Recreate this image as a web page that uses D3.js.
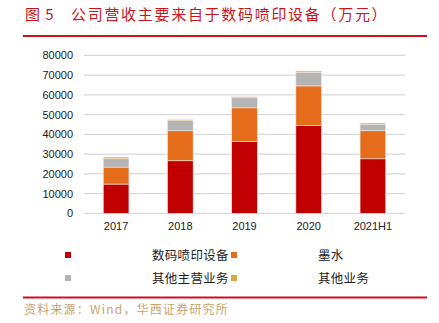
<!DOCTYPE html>
<html><head><meta charset="utf-8">
<script src="https://cdn.jsdelivr.net/npm/d3@7"></script>
<style>body{margin:0;background:#fff}svg{display:block}</style>
</head><body><svg id="c" width="439" height="323"></svg>
<script>
const categories = ["2017","2018","2019","2020","2021H1"];
const seriesNames = ["数码喷印设备","墨水","其他主营业务","其他业务"];
const printEquip = [14800, 26600, 36400, 44400, 27600];
const ink = [8600, 15200, 17000, 20100, 14200];
const otherMain = [4200, 5100, 5100, 6900, 3250];
const otherBiz = [850, 500, 500, 650, 650];
const yTicks = [0,10000,20000,30000,40000,50000,60000,70000,80000];
const colors = ["#C00000","#E46C1A","#B4B4B4","#D4AA44"];

const svg = d3.select("#c");
const cjk = "'Noto Sans CJK SC', sans-serif";

// title
svg.append("text").attr("x",25).attr("y",20).attr("fill","#C8161D")
  .style("font-family",cjk).style("font-size","15px").style("letter-spacing","1px")
  .text("图 5");
svg.append("text").attr("x",71).attr("y",20).attr("fill","#C8161D")
  .style("font-family",cjk).style("font-size","15px").style("letter-spacing","1.7px")
  .text("公司营收主要来自于数码喷印设备（万元）");
svg.append("line").attr("x1",23).attr("x2",427).attr("y1",36).attr("y2",36)
  .attr("stroke","#D0101B").attr("stroke-width",2);

const x = d3.scaleBand().domain(categories).range([84,405]).paddingInner(0.6).paddingOuter(0.3);
const y = d3.scaleLinear().domain([0,80000]).range([213.3,55.3]);

// grid
svg.append("g").selectAll("line").data(yTicks).join("line")
  .attr("x1",84).attr("x2",405).attr("y1",d=>y(d)).attr("y2",d=>y(d))
  .attr("stroke","#D9D9D9").attr("stroke-width",1.2);

// y axis labels
const yAxis = d3.axisLeft(y).tickValues(yTicks).tickSize(0).tickPadding(0).tickFormat(d3.format("d"));
const ga = svg.append("g").attr("transform","translate(73,0)").call(yAxis);
ga.select(".domain").remove();
ga.selectAll("text").style("font-family","Arial, 'Liberation Sans', sans-serif").style("font-size","11px").attr("fill","#222");

// x axis labels
const xAxis = d3.axisBottom(x).tickSize(0).tickPadding(0);
const gx = svg.append("g").attr("transform","translate(0,222)").call(xAxis);
gx.select(".domain").remove();
gx.selectAll("text").style("font-family","Arial, 'Liberation Sans', sans-serif").style("font-size","11px").attr("fill","#222");

// stacked bars
const table = categories.map((c,i)=>({cat:c, s0:printEquip[i], s1:ink[i], s2:otherMain[i], s3:otherBiz[i]}));
const stack = d3.stack().keys(["s0","s1","s2","s3"])(table);
svg.append("g").selectAll("g").data(stack).join("g").attr("fill",(d,i)=>colors[i])
  .selectAll("rect").data(d=>d).join("rect")
  .attr("x",d=>x(d.data.cat)).attr("width",x.bandwidth())
  .attr("y",d=>y(d[1])).attr("height",d=>y(d[0])-y(d[1]))
  .attr("stroke","#F4E8E8").attr("stroke-width",0.6);

// legend
const legPos = [[65,255,152],[231,255,318],[65,278,152],[231,278,318]];
seriesNames.forEach((n,i)=>{
  const [mx,my,tx] = legPos[i];
  svg.append("rect").attr("x",mx).attr("y",my-3).attr("width",6).attr("height",6).attr("fill",colors[i]);
  svg.append("text").attr("x",tx).attr("y",my+4.5).attr("fill","#222")
    .style("font-family",cjk).style("font-size","12.5px").style("letter-spacing","0.3px").text(n);
});

svg.append("line").attr("x1",23).attr("x2",427).attr("y1",297.5).attr("y2",297.5)
  .attr("stroke","#D0101B").attr("stroke-width",2);
svg.append("text").attr("x",24).attr("y",314).attr("fill","#C9A36A")
  .style("font-family",cjk).style("font-size","12px").style("letter-spacing","1.2px")
  .text("资料来源：Wind，华西证券研究所");
</script></body></html>
